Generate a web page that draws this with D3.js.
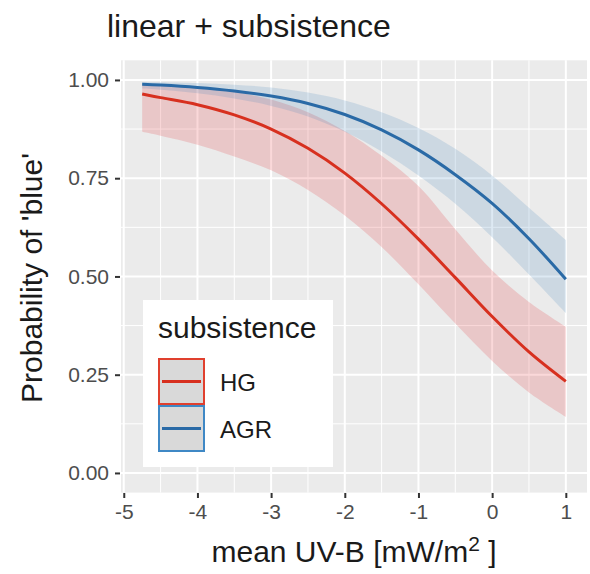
<!DOCTYPE html>
<html>
<head>
<meta charset="utf-8">
<script src="https://cdn.jsdelivr.net/npm/d3@7"></script>
<style>
  body { margin: 0; background: #fff; }
  text { font-family: "Liberation Sans", Arial, sans-serif; }
</style>
</head>
<body>
<div id="chart"></div>
<script>
// values
let uvb = [-4.75, -4.5, -4, -3.5, -3, -2.5, -2, -1.5, -1, -0.5, 0, 0.5, 1];

let hgFit   = [0.964, 0.955, 0.937, 0.911, 0.875, 0.826, 0.763, 0.685, 0.595, 0.497, 0.398, 0.308, 0.233];
let hgLower = [0.868, 0.858, 0.835, 0.805, 0.770, 0.720, 0.655, 0.575, 0.480, 0.380, 0.285, 0.205, 0.143];
let hgUpper = [0.990, 0.988, 0.982, 0.970, 0.950, 0.918, 0.870, 0.807, 0.730, 0.620, 0.515, 0.435, 0.372];

let agrFit   = [0.989, 0.987, 0.981, 0.972, 0.959, 0.940, 0.912, 0.873, 0.822, 0.759, 0.686, 0.596, 0.493];
let agrLower = [0.978, 0.975, 0.966, 0.953, 0.934, 0.907, 0.868, 0.818, 0.757, 0.685, 0.600, 0.505, 0.407];
let agrUpper = [0.995, 0.994, 0.992, 0.988, 0.981, 0.968, 0.948, 0.918, 0.878, 0.825, 0.757, 0.675, 0.593];

let groups = ["HG", "AGR"];
let xTicks = [-5, -4, -3, -2, -1, 0, 1];
let yTicks = [0, 0.25, 0.5, 0.75, 1];

let colors = { HG: "#d7301f", AGR: "#2a6aa6" };
let fills  = { HG: "#e41a1c", AGR: "#377eb8" };
let keyBorder = { HG: "#e0402e", AGR: "#3f88c5" };

let svgWidth = 590, svgHeight = 574;

let svg = d3.select("#chart").append("svg")
  .attr("width", svgWidth)
  .attr("height", svgHeight);

// panel
let xScale = d3.scaleLinear().domain([-5.0375, 1.2875]).range([121, 587]);
let yScale = d3.scaleLinear().domain([-0.05, 1.05]).range([492.6, 60.3]);

svg.append("rect")
  .attr("x", 121).attr("y", 60.3)
  .attr("width", 466).attr("height", 432.3)
  .attr("fill", "#ebebeb");

// minor gridlines
let xMinor = xTicks.map(d => d + 0.5).filter(d => d > -5.0375 && d < 1.2875);
let yMinor = [0.125, 0.375, 0.625, 0.875];

svg.append("g").selectAll("line").data(xMinor).enter().append("line")
  .attr("x1", d => xScale(d)).attr("x2", d => xScale(d))
  .attr("y1", 60.3).attr("y2", 492.6)
  .attr("stroke", "#fff").attr("stroke-width", 1);
svg.append("g").selectAll("line").data(yMinor).enter().append("line")
  .attr("y1", d => yScale(d)).attr("y2", d => yScale(d))
  .attr("x1", 121).attr("x2", 587)
  .attr("stroke", "#fff").attr("stroke-width", 1);

// major gridlines
svg.append("g").selectAll("line").data(xTicks).enter().append("line")
  .attr("x1", d => xScale(d)).attr("x2", d => xScale(d))
  .attr("y1", 60.3).attr("y2", 492.6)
  .attr("stroke", "#fff").attr("stroke-width", 2);
svg.append("g").selectAll("line").data(yTicks).enter().append("line")
  .attr("y1", d => yScale(d)).attr("y2", d => yScale(d))
  .attr("x1", 121).attr("x2", 587)
  .attr("stroke", "#fff").attr("stroke-width", 2);

// build series
let series = [
  { key: "HG", fit: hgFit, lower: hgLower, upper: hgUpper },
  { key: "AGR", fit: agrFit, lower: agrLower, upper: agrUpper }
];

let area = d3.area()
  .x((d, i) => xScale(uvb[i]))
  .y0(d => yScale(d[0]))
  .y1(d => yScale(d[1]))
  .curve(d3.curveCatmullRom.alpha(0.5));

let line = d3.line()
  .x((d, i) => xScale(uvb[i]))
  .y(d => yScale(d))
  .curve(d3.curveCatmullRom.alpha(0.5));

series.forEach(s => {
  svg.append("path")
    .datum(s.lower.map((v, i) => [v, s.upper[i]]))
    .attr("d", area)
    .attr("fill", fills[s.key])
    .attr("fill-opacity", 0.17);
});

series.forEach(s => {
  svg.append("path")
    .datum(s.fit)
    .attr("d", line)
    .attr("fill", "none")
    .attr("stroke", colors[s.key])
    .attr("stroke-width", 3);
});

// axes
let xAxis = d3.axisBottom(xScale).tickValues(xTicks).tickSize(5).tickPadding(6)
  .tickFormat(d3.format("d"));
let gx = svg.append("g").attr("transform", "translate(0,493)").call(xAxis);
gx.select(".domain").remove();
gx.selectAll(".tick line").attr("stroke", "#333").attr("stroke-width", 2);
gx.selectAll(".tick text").attr("fill", "#4d4d4d").attr("font-size", "21px")
  .text(d => d < 0 ? "-" + Math.abs(d) : d);

let yAxis = d3.axisLeft(yScale).tickValues(yTicks).tickSize(5).tickPadding(6)
  .tickFormat(d3.format(".2f"));
let gy = svg.append("g").attr("transform", "translate(120,0)").call(yAxis);
gy.select(".domain").remove();
gy.selectAll(".tick line").attr("stroke", "#333").attr("stroke-width", 2);
gy.selectAll(".tick text").attr("fill", "#4d4d4d").attr("font-size", "21px");

// titles
svg.append("text")
  .attr("x", 107).attr("y", 37)
  .attr("font-size", "32px").attr("fill", "#1a1a1a")
  .text("linear + subsistence");

let xt = svg.append("text")
  .attr("x", 354).attr("y", 562)
  .attr("text-anchor", "middle")
  .attr("font-size", "30px").attr("fill", "#1a1a1a");
xt.append("tspan").text("mean UV-B [mW/m");
xt.append("tspan").attr("dy", "-11").attr("font-size", "21px").text("2");
xt.append("tspan").attr("dy", "11").text(" ]");

svg.append("text")
  .attr("transform", "translate(42,278) rotate(-90)")
  .attr("text-anchor", "middle")
  .attr("font-size", "30px").attr("fill", "#1a1a1a")
  .text("Probability of 'blue'");

// legend
let legend = svg.append("g");
legend.append("rect")
  .attr("x", 143).attr("y", 300).attr("width", 190).attr("height", 167)
  .attr("fill", "#fff");
legend.append("text")
  .attr("x", 158).attr("y", 338)
  .attr("font-size", "30px").attr("fill", "#1a1a1a")
  .text("subsistence");

groups.forEach((g, i) => {
  let top = 359 + i * 47;
  legend.append("rect")
    .attr("x", 159).attr("y", top).attr("width", 45).attr("height", 45)
    .attr("fill", "#d9d9d9")
    .attr("stroke", keyBorder[g]).attr("stroke-width", 2);
  legend.append("line")
    .attr("x1", 162).attr("x2", 201)
    .attr("y1", top + 22.5).attr("y2", top + 22.5)
    .attr("stroke", colors[g]).attr("stroke-width", 3);
  legend.append("text")
    .attr("x", 220).attr("y", top + 32)
    .attr("font-size", "24px").attr("fill", "#1a1a1a")
    .text(g);
});
</script>
</body>
</html>
